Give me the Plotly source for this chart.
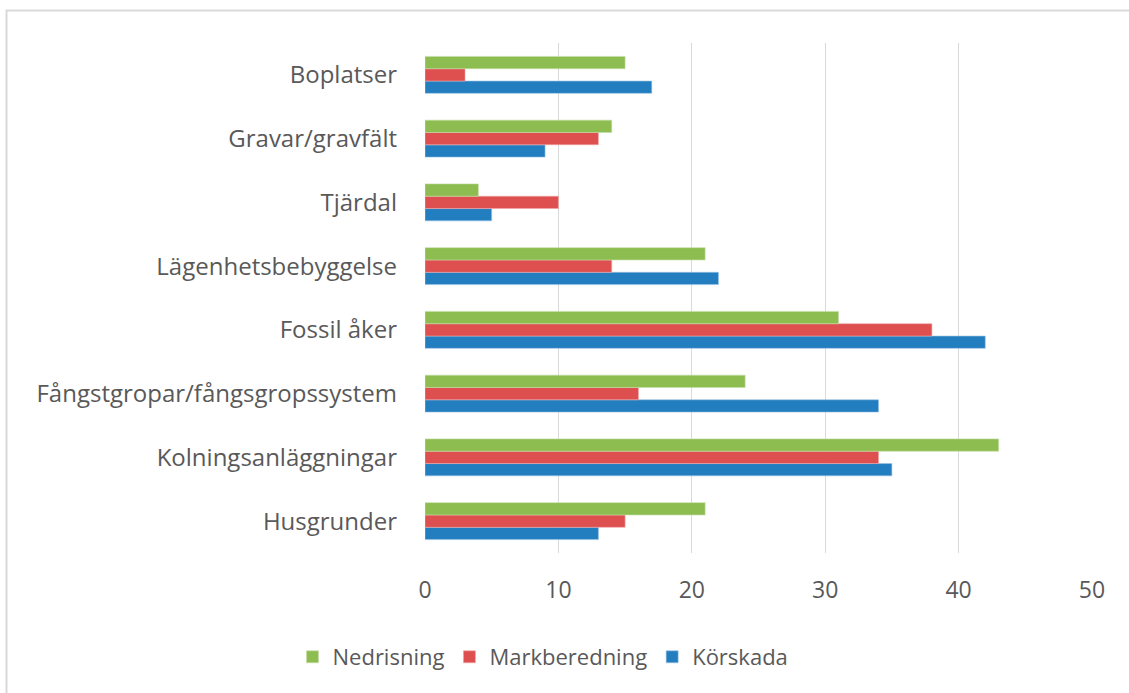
import plotly.graph_objects as go

categories = ['Husgrunder', 'Kolningsanläggningar', 'Fångstgropar/fångsgropssystem',
              'Fossil åker', 'Lägenhetsbebyggelse', 'Tjärdal', 'Gravar/gravfält', 'Boplatser']
korskada = [13, 35, 34, 42, 22, 5, 9, 17]
markberedning = [15, 34, 16, 38, 14, 10, 13, 3]
nedrisning = [21, 43, 24, 31, 21, 4, 14, 15]

W, H = 1129, 693
L, R, T, B = 425, 37, 43, 140
pw, ph = W - L - R, H - T - B

fig = go.Figure()
fig.add_trace(go.Bar(y=categories, x=korskada, name='Körskada', orientation='h',
                     marker=dict(color='#237EC0', line=dict(color='#9CC4E4', width=0.6))))
fig.add_trace(go.Bar(y=categories, x=markberedning, name='Markberedning', orientation='h',
                     marker=dict(color='#DE4F4F', line=dict(color='#F0A8A8', width=0.6))))
fig.add_trace(go.Bar(y=categories, x=nedrisning, name='Nedrisning', orientation='h',
                     marker=dict(color='#8DBD50', line=dict(color='#C6DEA8', width=0.6))))

# light frame (only top and left edges fall inside the picture)
fig.add_shape(type='rect', xref='paper', yref='paper',
              x0=(6.5 - L) / pw, x1=(W + 10 - L) / pw,
              y0=(H - B - (H + 10)) / ph, y1=(H - B - 10.5) / ph,
              line=dict(color='#D9D9D9', width=2), layer='below')

fig.update_layout(
    width=W, height=H,
    margin=dict(l=L, r=R, t=T, b=B),
    barmode='group', bargap=0.42, bargroupgap=0,
    plot_bgcolor='white', paper_bgcolor='white',
    font=dict(family='Open Sans', size=24, color='#595959'),
    showlegend=True,
    legend=dict(orientation='h', traceorder='reversed',
                x=(543 - L) / pw, xanchor='center',
                y=(H - B - 657) / ph, yanchor='middle',
                font=dict(size=22, color='#595959'),
                itemwidth=30),
    xaxis=dict(range=[0, 50], dtick=10, showgrid=True, gridcolor='#D9D9D9', gridwidth=1,
               zeroline=False, showline=False, ticks='', ticklabelstandoff=21,
               tickfont=dict(size=23)),
    yaxis=dict(showgrid=False, zeroline=False, showline=False, ticks='',
               ticklabelstandoff=27),
)

fig.write_html("out.html", config={'displayModeBar': False},
               post_script="document.body.style.margin='0px';")
